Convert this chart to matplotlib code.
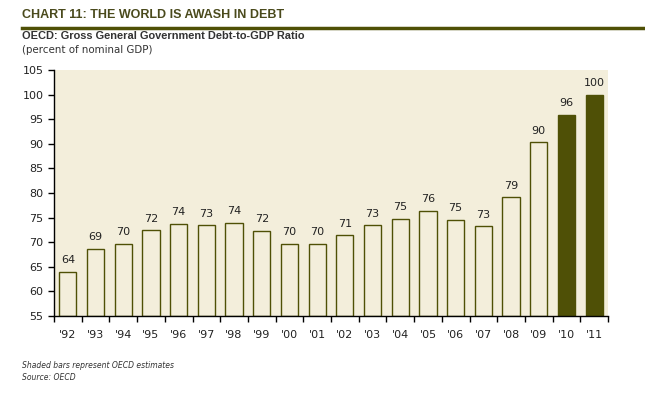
import matplotlib
matplotlib.use("Agg")
import matplotlib.pyplot as plt
import numpy as np

years = ["'92", "'93", "'94", "'95", "'96", "'97", "'98", "'99", "'00", "'01",
         "'02", "'03", "'04", "'05", "'06", "'07", "'08", "'09", "'10", "'11"]
values = [64.0, 68.7, 69.7, 72.4, 73.8, 73.4, 74.0, 72.3, 69.7, 69.7,
          71.4, 73.4, 74.8, 76.4, 74.6, 73.2, 79.1, 90.3, 95.9, 100.0]
labels = [64, 69, 70, 72, 74, 73, 74, 72, 70, 70,
          71, 73, 75, 76, 75, 73, 79, 90, 96, 100]
estimate = [False] * 18 + [True, True]

olive = "#4f5006"
title_col = "#4a4a1c"
txt = "#222222"

fig = plt.figure(figsize=(6.45, 3.94), dpi=100)
ax = fig.add_axes([54/645, 1-316/394, (608-54)/645, (316-70)/394])
ax.set_facecolor("#f3eedb")

x = np.arange(len(values))
base = 55
for xi, v, est in zip(x, values, estimate):
    ax.bar(xi, v - base, bottom=base, width=0.62,
           facecolor=olive if est else "#f3eedb",
           edgecolor=olive, linewidth=1.0)
for xi, v, lab in zip(x, values, labels):
    ax.text(xi, v + 1.3, str(lab), ha="center", va="bottom", fontsize=8, color=txt)

ax.set_xlim(-0.5, len(values) - 0.5)
ax.set_ylim(55, 105)
ax.set_yticks(np.arange(55, 106, 5))
ax.set_xticks(x)
ax.set_xticklabels(years)
ax.set_xticks(np.arange(-0.5, len(values), 1.0), minor=True)
ax.tick_params(axis="x", which="major", length=0, pad=10, labelsize=8, colors=txt)
ax.tick_params(axis="x", which="minor", length=4, width=1, direction="out", color="black")
ax.tick_params(axis="y", length=4, width=1, direction="out", labelsize=8, colors=txt)
ax.tick_params(axis="y", color="black")
for s in ["top", "right"]:
    ax.spines[s].set_visible(False)
for s in ["left", "bottom"]:
    ax.spines[s].set_color("black")
    ax.spines[s].set_linewidth(1.0)

fig.text(22/645, 1-15/394, "CHART 11: THE WORLD IS AWASH IN DEBT", fontsize=9.0,
         family="Liberation Sans", fontweight="bold", color=title_col, va="center", ha="left")
fig.add_artist(plt.Line2D([22/645, 1.0], [1-28/394, 1-28/394], color=olive,
                          linewidth=2.5, transform=fig.transFigure))
fig.text(22/645, 1-36/394, "OECD: Gross General Government Debt-to-GDP Ratio", fontsize=7.9,
         family="Liberation Sans", fontweight="bold", color="#333333", va="center", ha="left")
fig.text(22/645, 1-50/394, "(percent of nominal GDP)", fontsize=7.4,
         color="#333333", va="center", ha="left")
fig.text(22/645, 1-365/394, "Shaded bars represent OECD estimates", fontsize=5.5,
         style="italic", color="#333333", va="center", ha="left")
fig.text(22/645, 1-378/394, "Source: OECD", fontsize=5.5,
         style="italic", color="#333333", va="center", ha="left")

fig.savefig("out.png", dpi=100)
